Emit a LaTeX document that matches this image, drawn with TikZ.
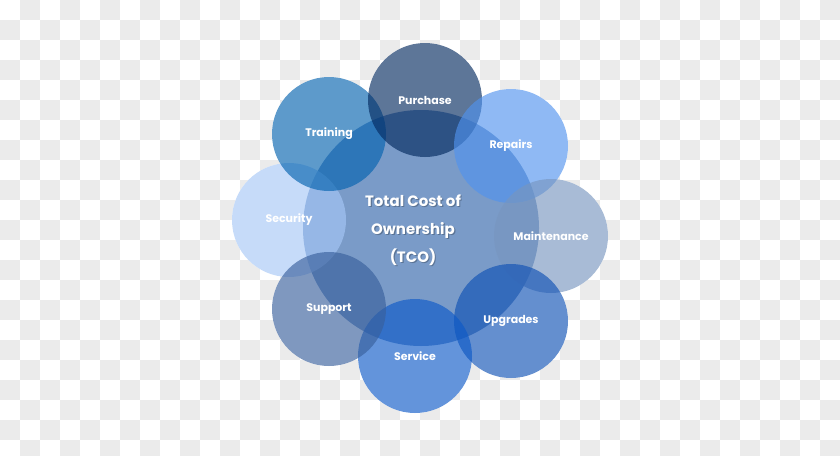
\documentclass[tikz,border=0pt]{standalone}
\usepackage{fontspec}
\setmainfont{Poppins}
\definecolor{bggray}{HTML}{EBEBEB}
\definecolor{ctco}{HTML}{7A9BC8}
\definecolor{cpurchase}{HTML}{03295F}
\definecolor{ctraining}{HTML}{0262AF}
\definecolor{crepairs}{HTML}{5093EF}
\definecolor{cmaint}{HTML}{7896BF}
\definecolor{cupgrades}{HTML}{0E50B4}
\definecolor{cservice}{HTML}{0C59C8}
\definecolor{csupport}{HTML}{385F9C}
\definecolor{csecurity}{HTML}{A7C8F7}
\tikzset{
  smallc/.style={circle, inner sep=0pt, minimum size=114pt, draw=none, fill opacity=0.64},
  bigc/.style={circle, inner sep=0pt, minimum size=236pt, draw=none},
  whitec/.style={circle, inner sep=0pt, draw=none, fill=white},
  lbl/.style={text=white, font=\fontsize{11}{13}\selectfont\bfseries, inner sep=0pt},
  tcotxt/.style={text=white, font=\fontsize{15}{28}\selectfont\bfseries, align=center, inner sep=0pt},
  tcoshadow/.style={text=black, text opacity=0.25, font=\fontsize{15}{28}\selectfont\bfseries, align=center, inner sep=0pt}
}
\begin{document}
\begin{tikzpicture}[x=1pt,y=-1pt]
\useasboundingbox (0,0) rectangle (840,455);
\clip (0,0) rectangle (840,455);
\fill[white] (0,0) rectangle (840,455);
\foreach \i in {0,...,41}{
  \foreach \j in {0,...,22}{
    \pgfmathtruncatemacro\s{mod(\i+\j,2)}
    \ifnum\s=1 \fill[bggray] (\i*20,\j*20) rectangle ++(20,20);\fi
  }
}
% white underlays
\foreach \p in {(425,100),(511,146),(551,236),(511,321),(415,356),(329,309),(289,220),(329,134)}{
  \node[whitec, minimum size=114pt] at \p {};
}
% central circle
\node[bigc, fill=ctco] (tco) at (421,228) {};
% small circles
\node[smallc, fill=csecurity] (security) at (289,220) {};
\node[smallc, fill=ctraining] (training) at (329,134) {};
\node[smallc, fill=cpurchase] (purchase) at (425,100) {};
\node[smallc, fill=crepairs] (repairs) at (511,146) {};
\node[smallc, fill=cmaint] (maintenance) at (551,236) {};
\node[smallc, fill=cupgrades] (upgrades) at (511,321) {};
\node[smallc, fill=cservice] (service) at (415,356) {};
\node[smallc, fill=csupport] (support) at (329,309) {};
% labels
\node[lbl] (lpurchase) at (purchase) {Purchase};
\node[lbl] (ltraining) at (training) {Training};
\node[lbl] (lrepairs) at (repairs) {Repairs};
\node[lbl] (lsecurity) at (security) {Security};
\node[lbl] (lmaint) at (maintenance) {Maintenance};
\node[lbl] (lsupport) at (support) {Support};
\node[lbl] (lupgrades) at (upgrades) {Upgrades};
\node[lbl] (lservice) at (service) {Service};
% central text
\node[tcoshadow] (tcoshadow) at (414.2,231.2) {Total Cost of\\Ownership\\(TCO)};
\node[tcotxt] (tcolabel) at (413,230) {Total Cost of\\Ownership\\(TCO)};
\end{tikzpicture}
\end{document}
